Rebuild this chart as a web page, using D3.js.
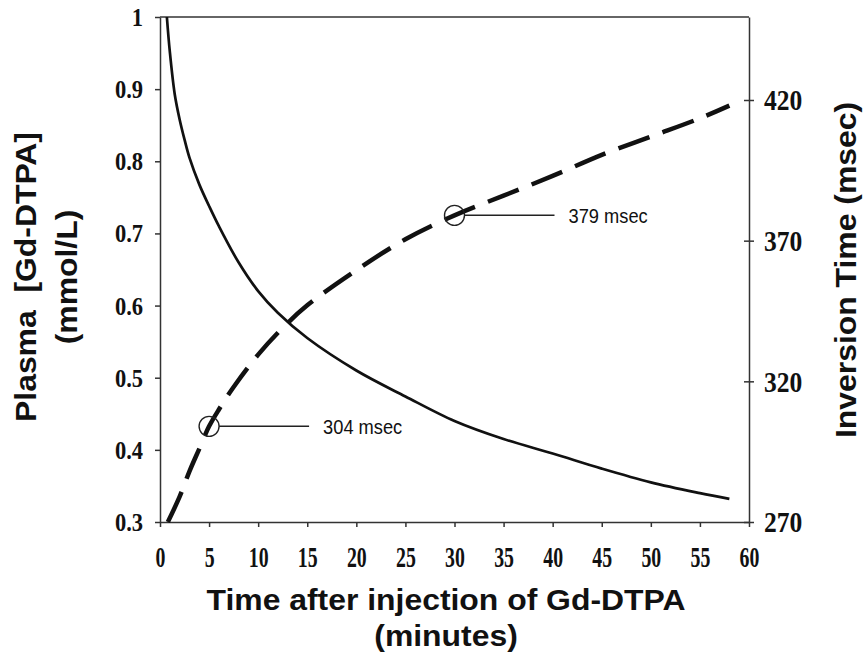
<!DOCTYPE html>
<html>
<head>
<meta charset="utf-8">
<script src="https://cdn.jsdelivr.net/npm/d3@7"></script>
<style>
	body { margin: 0; background: #fff; }
	svg { display: block; }
</style>
</head>
<body>
<div id="chart"></div>
<script>
// Plasma [Gd-DTPA] concentration (solid line, left axis)
const plasmaTime = [0.7, 1, 1.5, 2, 2.5, 3, 4, 5, 6, 8, 10, 12, 15, 20, 25, 30, 35, 40, 45, 50, 55, 58]
const plasmaConc = [1.0, 0.952, 0.893, 0.858, 0.83, 0.805, 0.768, 0.738, 0.71, 0.66, 0.62, 0.59, 0.555, 0.51, 0.474, 0.44, 0.415, 0.395, 0.374, 0.355, 0.34, 0.332]

// Inversion time (dashed line, right axis)
const tiTime = [0.8, 2, 3, 4, 5, 6, 7.5, 10, 12.5, 15, 20, 25, 30, 35, 40, 45, 50, 55, 58]
const tiMsec = [270, 279, 288, 296, 304, 310, 318, 329.5, 339, 347, 359.5, 370.5, 379, 386, 393, 400.5, 407, 413.5, 418]

// circled points
const markTime = [5, 30]
const markMsec = [304, 379]
const markLabels = ['304 msec', '379 msec']

// ticks
const xTicks = [0, 5, 10, 15, 20, 25, 30, 35, 40, 45, 50, 55, 60]
const yLeftTicks = [0.3, 0.4, 0.5, 0.6, 0.7, 0.8, 0.9, 1]
const yRightTicks = [270, 320, 370, 420]

function draw() {
	// Dimensions
	let dimensions = {
		width: 867,
		height: 654,
		margin: {
			top: 17,
			bottom: 132,
			left: 160,
			right: 118
		}
	}
	dimensions.ctrWidth = dimensions.width - dimensions.margin.left - dimensions.margin.right
	dimensions.ctrHeight = dimensions.height - dimensions.margin.top - dimensions.margin.bottom

	const plasma = plasmaTime.map((t, i) => ({ t, v: plasmaConc[i] }))
	const ti = tiTime.map((t, i) => ({ t, v: tiMsec[i] }))
	const marks = markTime.map((t, i) => ({ t, v: markMsec[i], label: markLabels[i] }))

	const svg = d3.select('#chart')
		.append('svg')
		.attr('width', dimensions.width)
		.attr('height', dimensions.height)

	const ctr = svg.append('g')
		.attr('transform', `translate(${dimensions.margin.left}, ${dimensions.margin.top})`)

	// Scales
	const xScale = d3.scaleLinear()
		.domain([0, 60])
		.range([0, dimensions.ctrWidth])

	const yLeft = d3.scaleLinear()
		.domain([0.3, 1])
		.range([dimensions.ctrHeight, 0])

	const yRight = d3.scaleLinear()
		.domain([270, 449.5])
		.range([dimensions.ctrHeight, 0])

	const axisColor = '#333'

	// Axes
	const xAxisG = ctr.append('g')
		.attr('transform', `translate(0, ${dimensions.ctrHeight})`)
		.call(d3.axisBottom(xScale).tickValues(xTicks).tickSize(5).tickSizeOuter(0))
	xAxisG.selectAll('text')
		.attr('y', 45)
		.attr('dy', 0)
		.attr('transform', 'scale(0.66, 1)')
	xAxisG.attr('font-size', 30)

	const leftAxisG = ctr.append('g')
		.call(d3.axisLeft(yLeft).tickValues(yLeftTicks).tickSize(5).tickSizeOuter(0).tickFormat(d3.format('')))
	leftAxisG.selectAll('text')
		.attr('x', -17 / 0.9)
		.attr('dy', '0.34em')
		.attr('transform', 'scale(0.9, 1)')
	leftAxisG.attr('font-size', 25)

	const rightAxisG = ctr.append('g')
		.attr('transform', `translate(${dimensions.ctrWidth}, 0)`)
		.call(d3.axisRight(yRight).tickValues(yRightTicks).tickSize(5).tickSizeOuter(0))
	rightAxisG.selectAll('.tick line')
		.attr('x1', -5)
	rightAxisG.selectAll('text')
		.attr('x', 15 / 0.88)
		.attr('dy', '0.34em')
		.attr('transform', 'scale(0.88, 1)')
	rightAxisG.attr('font-size', 29)

	;[xAxisG, leftAxisG, rightAxisG].forEach(g => {
		g.attr('font-family', '"Liberation Serif", "Times New Roman", serif')
			.attr('font-weight', 'bold')
		g.selectAll('text').attr('fill', '#111')
		g.selectAll('path, line')
			.attr('stroke', axisColor)
			.attr('stroke-width', 1.5)
	})

	// top frame line
	ctr.append('line')
		.attr('x1', 0)
		.attr('x2', dimensions.ctrWidth)
		.attr('y1', 0)
		.attr('y2', 0)
		.attr('stroke', axisColor)
		.attr('stroke-width', 1.5)

	// Lines
	const plasmaLine = d3.line()
		.x(d => xScale(d.t))
		.y(d => yLeft(d.v))
		.curve(d3.curveCatmullRom.alpha(0.5))

	const tiLine = d3.line()
		.x(d => xScale(d.t))
		.y(d => yRight(d.v))
		.curve(d3.curveCatmullRom.alpha(0.5))

	ctr.append('path')
		.datum(plasma)
		.attr('d', plasmaLine)
		.attr('fill', 'none')
		.attr('stroke', '#111')
		.attr('stroke-width', 2.7)

	ctr.append('path')
		.datum(ti)
		.attr('d', tiLine)
		.attr('fill', 'none')
		.attr('stroke', '#111')
		.attr('stroke-width', 4.5)
		.attr('stroke-dasharray', '33,14')

	// Circled points + labels
	const markG = ctr.selectAll('.mark')
		.data(marks)
		.join('g')
		.attr('class', 'mark')
		.attr('transform', d => `translate(${xScale(d.t)}, ${yRight(d.v)})`)

	markG.append('circle')
		.attr('r', 10)
		.attr('fill', 'none')
		.attr('stroke', '#222')
		.attr('stroke-width', 1.4)

	markG.append('line')
		.attr('x1', 10)
		.attr('x2', 100)
		.attr('stroke', '#222')
		.attr('stroke-width', 1.5)

	markG.append('text')
		.attr('transform', 'translate(114, 0) scale(0.87, 1)')
		.attr('dy', '0.35em')
		.attr('font-family', '"Liberation Sans", Arial, sans-serif')
		.attr('font-size', 21)
		.attr('fill', '#111')
		.text(d => d.label)

	// Axis titles
	const titleFont = '"Liberation Sans", Arial, sans-serif'
	const title = (x, y, rot, txt) => svg.append('text')
		.attr('transform', `translate(${x}, ${y}) rotate(${rot}) scale(1.1, 1)`)
		.attr('text-anchor', 'middle')
		.attr('font-family', titleFont)
		.attr('font-weight', 'bold')
		.attr('font-size', 29)
		.attr('fill', '#111')
		.style('white-space', 'pre')
		.text(txt)

	title(446, 610, 0, 'Time after injection of Gd-DTPA')
	title(446, 646, 0, '(minutes)')
	title(36, 277, -90, 'Plasma  [Gd-DTPA]')
	title(77, 277, -90, '(mmol/L)')
	title(856, 270, -90, 'Inversion Time (msec)')
}

draw()
</script>
</body>
</html>
